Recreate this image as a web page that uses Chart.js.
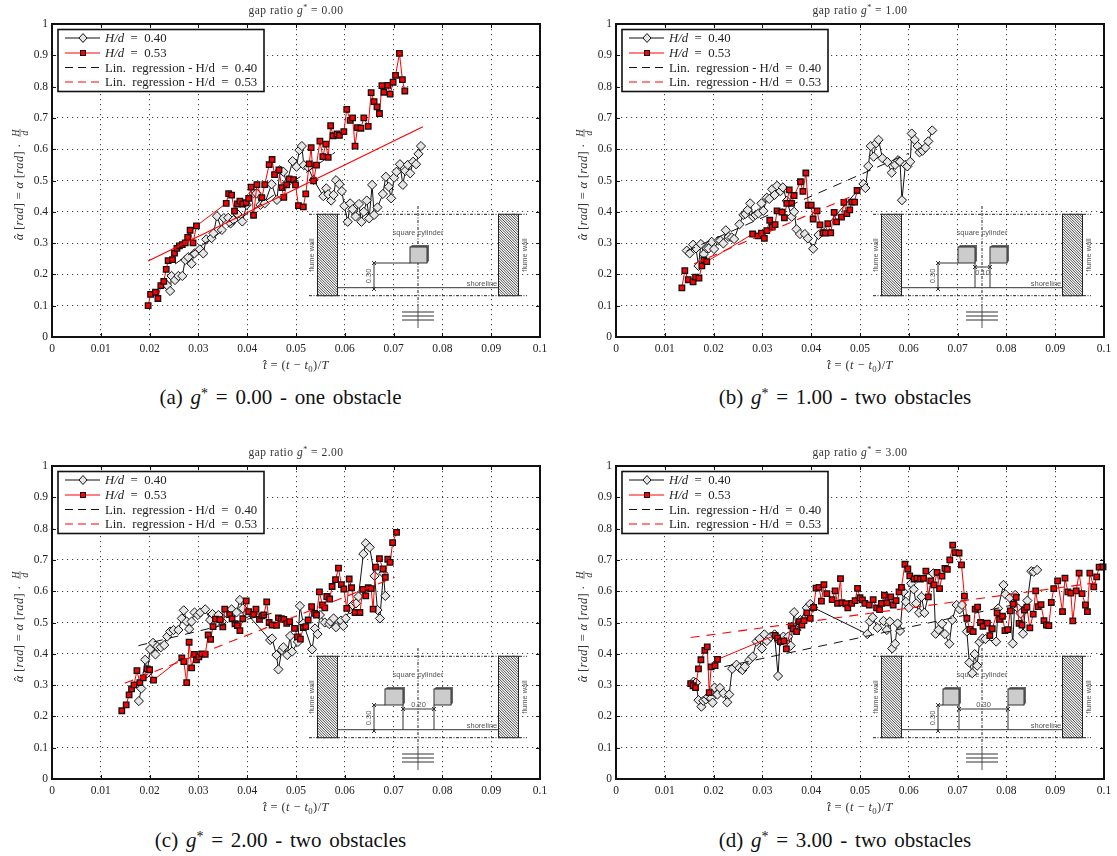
<!DOCTYPE html>
<html><head><meta charset="utf-8">
<script src="https://cdn.jsdelivr.net/npm/chart.js@4"></script>
<style>
html,body{margin:0;padding:0;background:#fff;overflow:hidden}
#page{position:relative;width:1117px;height:856px}
canvas{position:absolute}
.cap{position:absolute;font-family:"Liberation Serif",serif;font-size:21px;word-spacing:2.5px;color:#111;white-space:nowrap;transform:translateX(-50%);line-height:22px}
.cap sup{font-size:14px;line-height:0;vertical-align:6px}
</style></head><body><div id="page"></div>
<script>
const xTickLabels=['0','0.01','0.02','0.03','0.04','0.05','0.06','0.07','0.08','0.09','0.1'];
const yTickLabels=['0','0.1','0.2','0.3','0.4','0.5','0.6','0.7','0.8','0.9','1'];
const seriesLabels=['H/d = 0.40','H/d = 0.53','Lin. regression - H/d = 0.40','Lin. regression - H/d = 0.53'];
const gapValues=['0.00','1.00','2.00','3.00'];
const captions=['(a)|one obstacle','(b)|two obstacles','(c)|two obstacles','(d)|two obstacles'];
const gapDims=['','0.10','0.20','0.30'];

const aBlackX=[.0232,.0236,.0242,.0245,.0252,.0259,.0267,.0273,.0279,.0286,.0292,.0303,.0310,.0316,.0327,.0331,.0338,.0348,.0352,.0361,.0366,.0372,.0380,.0390,.0399,.0413,.0419,.0427,.0436,.0450,.0461,.0467,.0474,.0481,.0493,.0501,.0507,.0512,.0516,.0525,.0536,.0556,.0562,.0566,.0572,.0577,.0582,.0589,.0594,.0599,.0606,.0611,.0616,.0622,.0629,.0634,.0639,.0645,.0650,.0656,.0660,.0667,.0678,.0684,.0690,.0695,.0701,.0706,.0713,.0719,.0724,.0729,.0734,.0740,.0746,.0751,.0756];
const aBlackY=[.171,.165,.147,.195,.182,.195,.195,.246,.255,.234,.267,.280,.267,.312,.316,.331,.386,.342,.380,.381,.363,.374,.393,.369,.422,.459,.459,.422,.427,.488,.438,.533,.528,.491,.562,.544,.597,.610,.549,.542,.502,.450,.475,.456,.436,.454,.501,.488,.466,.419,.368,.427,.408,.385,.425,.368,.400,.436,.379,.486,.390,.414,.457,.512,.480,.443,.509,.528,.552,.486,.531,.550,.523,.560,.552,.585,.610];
const aRedX=[.0197,.0202,.0212,.0217,.0223,.0229,.0234,.0238,.0247,.0251,.0256,.0261,.0267,.0273,.0278,.0283,.0289,.0296,.0357,.0362,.0368,.0374,.0380,.0385,.0391,.0398,.0403,.0408,.0413,.0420,.0430,.0436,.0445,.0451,.0456,.0465,.0471,.0475,.0481,.0486,.0495,.0499,.0505,.0515,.0520,.0527,.0531,.0536,.0542,.0549,.0555,.0561,.0566,.0571,.0576,.0584,.0589,.0598,.0604,.0611,.0616,.0621,.0626,.0633,.0639,.0648,.0654,.0660,.0666,.0671,.0676,.0680,.0688,.0693,.0699,.0704,.0712,.0718,.0723];
const aRedY=[.100,.136,.143,.123,.164,.178,.216,.244,.247,.268,.283,.291,.295,.301,.318,.341,.301,.355,.427,.458,.453,.402,.425,.434,.425,.429,.443,.479,.389,.487,.445,.487,.551,.567,.519,.534,.477,.446,.486,.505,.503,.486,.420,.416,.457,.553,.605,.499,.549,.626,.576,.616,.574,.675,.643,.649,.644,.656,.727,.692,.700,.610,.669,.667,.700,.673,.781,.752,.735,.714,.803,.782,.804,.776,.814,.836,.906,.822,.786];
const aRegBlackX=[.0252,.0580];const aRegBlackY=[.233,.590];
const aRegRedX=[.0197,.0760];const aRegRedY=[.243,.672];

const bBlackX=[.0145,.0151,.0158,.0164,.0169,.0174,.0180,.0186,.0190,.0196,.0201,.0210,.0214,.0220,.0225,.0231,.0237,.0242,.0253,.0261,.0265,.0270,.0275,.0281,.0286,.0292,.0298,.0302,.0309,.0314,.0320,.0325,.0330,.0337,.0342,.0350,.0360,.0365,.0370,.0377,.0387,.0393,.0404,.0415,.0507,.0511,.0517,.0522,.0528,.0533,.0538,.0546,.0556,.0565,.0572,.0578,.0582,.0586,.0593,.0597,.0603,.0606,.0612,.0618,.0622,.0628,.0634,.0640,.0648];
const bBlackY=[.276,.267,.295,.283,.227,.297,.265,.283,.283,.304,.281,.308,.308,.299,.341,.320,.318,.313,.360,.390,.393,.406,.427,.384,.390,.395,.427,.403,.445,.441,.472,.454,.483,.466,.478,.435,.384,.400,.344,.329,.329,.315,.282,.326,.489,.476,.546,.610,.576,.619,.630,.571,.559,.525,.550,.565,.560,.437,.550,.545,.560,.650,.630,.610,.590,.595,.605,.625,.660];
const bRedX=[.0135,.0141,.0148,.0158,.0163,.0170,.0176,.0180,.0186,.0280,.0291,.0298,.0304,.0309,.0315,.0320,.0326,.0330,.0340,.0345,.0350,.0355,.0360,.0365,.0378,.0383,.0389,.0394,.0400,.0404,.0412,.0418,.0424,.0429,.0434,.0440,.0447,.0452,.0462,.0467,.0473,.0479,.0483,.0489,.0494];
const bRedY=[.157,.212,.183,.176,.191,.188,.227,.246,.241,.329,.323,.332,.315,.340,.373,.351,.359,.403,.399,.381,.427,.470,.427,.452,.496,.465,.524,.421,.421,.377,.403,.358,.333,.332,.362,.333,.398,.368,.383,.430,.394,.406,.431,.431,.468];
const bRegBlackX=[.0145,.0600];const bRegBlackY=[.275,.587];
const bRegRedX=[.0160,.0494];const bRegRedY=[.234,.457];

const cBlackX=[.0178,.0183,.0191,.0195,.0201,.0207,.0212,.0216,.0223,.0230,.0236,.0242,.0249,.0259,.0266,.0270,.0276,.0281,.0286,.0292,.0299,.0304,.0314,.0324,.0329,.0335,.0341,.0348,.0358,.0368,.0378,.0385,.0391,.0399,.0447,.0451,.0460,.0464,.0471,.0474,.0482,.0488,.0492,.0504,.0508,.0515,.0533,.0539,.0544,.0549,.0559,.0568,.0571,.0577,.0582,.0592,.0597,.0602,.0611,.0616,.0623,.0628,.0638,.0643,.0651,.0661,.0667,.0672,.0679,.0683];
const cBlackY=[.249,.289,.381,.338,.415,.435,.398,.423,.421,.428,.455,.471,.476,.476,.513,.539,.503,.479,.503,.532,.524,.532,.542,.508,.527,.497,.524,.503,.529,.542,.532,.572,.545,.529,.444,.449,.396,.350,.412,.421,.396,.457,.407,.438,.553,.497,.414,.481,.463,.524,.500,.495,.503,.513,.485,.506,.489,.513,.542,.556,.561,.583,.719,.753,.740,.649,.540,.513,.657,.585];
const cRedX=[.0143,.0152,.0158,.0163,.0168,.0174,.0180,.0187,.0195,.0200,.0208,.0266,.0270,.0276,.0281,.0286,.0292,.0296,.0301,.0307,.0314,.0320,.0325,.0330,.0335,.0344,.0350,.0354,.0364,.0369,.0375,.0380,.0385,.0391,.0398,.0403,.0413,.0418,.0425,.0430,.0434,.0440,.0445,.0451,.0460,.0464,.0470,.0475,.0481,.0487,.0497,.0503,.0509,.0515,.0520,.0525,.0532,.0538,.0542,.0548,.0554,.0559,.0563,.0569,.0574,.0581,.0587,.0593,.0598,.0604,.0609,.0614,.0621,.0631,.0637,.0643,.0648,.0654,.0658,.0663,.0671,.0678,.0683,.0688,.0693,.0698,.0706];
const cRedY=[.218,.237,.269,.288,.301,.346,.308,.323,.352,.349,.316,.387,.375,.308,.437,.355,.398,.381,.390,.400,.398,.460,.446,.487,.511,.509,.486,.543,.525,.512,.496,.490,.474,.512,.569,.535,.526,.543,.510,.521,.524,.566,.500,.492,.491,.515,.512,.510,.497,.503,.481,.454,.447,.484,.487,.508,.551,.529,.524,.598,.556,.547,.583,.575,.615,.637,.674,.621,.607,.545,.639,.611,.532,.532,.606,.585,.611,.608,.543,.677,.704,.671,.644,.702,.692,.755,.788];
const cRegBlackX=[.0177,.0460];const cRegBlackY=[.426,.533];
const cRegRedX=[.0149,.0702];const cRegRedY=[.306,.644];

const dBlackX=[.0159,.0164,.0169,.0175,.0179,.0184,.0189,.0195,.0198,.0202,.0208,.0213,.0220,.0228,.0232,.0238,.0247,.0253,.0259,.0264,.0273,.0280,.0288,.0294,.0299,.0304,.0309,.0317,.0325,.0332,.0336,.0343,.0353,.0358,.0365,.0370,.0378,.0391,.0398,.0404,.0515,.0520,.0526,.0536,.0548,.0555,.0561,.0566,.0572,.0577,.0582,.0589,.0594,.0600,.0605,.0610,.0615,.0621,.0626,.0632,.0650,.0655,.0661,.0668,.0674,.0683,.0689,.0698,.0704,.0709,.0719,.0724,.0730,.0735,.0740,.0745,.0751,.0757,.0779,.0783,.0794,.0798,.0807,.0813,.0818,.0824,.0829,.0834,.0839,.0843,.0851,.0856,.0863];
const dBlackY=[.311,.308,.252,.231,.250,.254,.263,.258,.244,.292,.270,.291,.274,.245,.270,.352,.365,.355,.348,.359,.380,.391,.439,.448,.417,.462,.441,.455,.462,.329,.439,.455,.455,.426,.533,.476,.508,.547,.559,.548,.463,.503,.516,.483,.505,.476,.503,.417,.432,.497,.473,.598,.566,.547,.625,.606,.561,.531,.582,.531,.657,.464,.477,.496,.463,.432,.508,.556,.542,.556,.471,.372,.338,.399,.362,.437,.449,.447,.439,.545,.620,.590,.579,.433,.588,.545,.529,.464,.545,.570,.664,.662,.668];
const dRedX=[.0153,.0158,.0163,.0169,.0174,.0182,.0187,.0191,.0195,.0203,.0208,.0326,.0331,.0337,.0344,.0349,.0359,.0363,.0370,.0376,.0381,.0385,.0391,.0398,.0405,.0410,.0416,.0421,.0426,.0432,.0443,.0449,.0454,.0460,.0463,.0471,.0475,.0483,.0490,.0495,.0500,.0505,.0510,.0519,.0527,.0534,.0540,.0544,.0550,.0555,.0563,.0568,.0574,.0580,.0585,.0592,.0598,.0602,.0611,.0617,.0624,.0630,.0635,.0640,.0645,.0652,.0658,.0663,.0668,.0674,.0679,.0684,.0690,.0695,.0703,.0708,.0714,.0719,.0725,.0732,.0736,.0741,.0747,.0752,.0761,.0766,.0771,.0781,.0786,.0792,.0797,.0803,.0808,.0814,.0820,.0826,.0832,.0837,.0842,.0848,.0855,.0860,.0865,.0871,.0877,.0882,.0887,.0892,.0897,.0905,.0915,.0920,.0926,.0932,.0936,.0943,.0949,.0955,.0962,.0966,.0971,.0979,.0985,.0990,.0998];
const dRedY=[.305,.298,.292,.352,.381,.411,.422,.276,.358,.362,.382,.459,.450,.439,.441,.416,.489,.480,.471,.503,.492,.506,.531,.513,.548,.610,.612,.568,.621,.592,.573,.601,.561,.640,.563,.560,.547,.561,.570,.609,.579,.572,.561,.556,.573,.547,.541,.561,.587,.563,.582,.556,.570,.598,.612,.686,.671,.649,.639,.642,.639,.641,.664,.582,.633,.620,.660,.608,.648,.673,.670,.700,.747,.723,.722,.684,.584,.513,.478,.471,.543,.549,.500,.488,.498,.458,.480,.531,.510,.520,.474,.477,.537,.559,.580,.497,.492,.540,.549,.483,.527,.601,.551,.557,.506,.492,.490,.564,.608,.633,.535,.642,.598,.594,.505,.601,.658,.592,.556,.535,.658,.614,.646,.677,.678];
const dRegBlackX=[.0222,.0810];const dRegBlackY=[.359,.555];
const dRegRedX=[.0153,.0998];const dRegRedY=[.452,.630];

const pts=(xs,ys)=>xs.map((x,i)=>({x,y:ys[i]}));
const SERIF='"Liberation Serif",serif';
const SANS='"Liberation Sans",sans-serif';

function runs(ctx,parts,x,y,size,align,color,spacing){
  ctx.save();ctx.fillStyle=color||'#222';ctx.textBaseline='alphabetic';ctx.textAlign='left';
  ctx.letterSpacing=(spacing||0)+'px';
  let w=0;
  for(const p of parts){const s=p.s?size*.7:size;ctx.font=(p.i?'italic ':'')+s+'px '+SERIF;w+=ctx.measureText(p.t).width;}
  let cx=align==='center'?x-w/2:x;
  for(const p of parts){const s=p.s?size*.7:size;ctx.font=(p.i?'italic ':'')+s+'px '+SERIF;
    const pw=ctx.measureText(p.t).width;
    ctx.fillText(p.t,cx,y+(p.s==='sup'?-size*.35:p.s==='sub'?size*.2:0));
    if(p.h){ctx.font=size+'px '+SERIF;ctx.textAlign='center';ctx.fillText('\u02C6',cx+pw/2,y-size*.02);ctx.textAlign='left';}
    cx+=pw;}
  ctx.restore();
}
function labelRuns(t){
  if(t.startsWith('H/d'))return [{t:'H/d',i:true},{t:t.slice(3).replace(' = ','  =  ')}];
  return [{t:t.replace('Lin. ','Lin.  ').replace(' = ','  =  ')}];
}
function cross(ctx,x,y){ctx.beginPath();ctx.moveTo(x-2,y-2);ctx.lineTo(x+2,y+2);ctx.moveTo(x+2,y-2);ctx.lineTo(x-2,y+2);ctx.stroke();}

function drawInset(ctx,pi){
  const T=214.3,B=295.7,SH=287.7,CX=418;
  ctx.save();
  ctx.strokeStyle='#222';ctx.lineWidth=1;
  ctx.setLineDash([3,1.5,1,1.5]);
  ctx.beginPath();ctx.moveTo(309,T);ctx.lineTo(527,T);ctx.moveTo(309,B);ctx.lineTo(527,B);
  ctx.moveTo(CX,206);ctx.lineTo(CX,305);ctx.stroke();
  ctx.setLineDash([]);
  ctx.beginPath();ctx.moveTo(CX,305);ctx.lineTo(CX,328);ctx.strokeStyle='#555';ctx.stroke();
  ctx.strokeStyle='#333';
  ctx.beginPath();[312,316,320].forEach(y=>{ctx.moveTo(402,y);ctx.lineTo(434,y);});ctx.stroke();
  for(const [l,r] of [[317.5,337.5],[498.5,518.5]]){
    ctx.save();ctx.fillStyle='#fff';ctx.fillRect(l,T,r-l,B-T);
    ctx.beginPath();ctx.rect(l,T,r-l,B-T);ctx.clip();
    ctx.strokeStyle='#333';ctx.lineWidth=.9;ctx.beginPath();
    for(let k=l-100;k<r+10;k+=2.6){ctx.moveTo(k,T);ctx.lineTo(k+(B-T),B);}
    ctx.stroke();ctx.restore();
    ctx.strokeStyle='#222';ctx.strokeRect(l,T,r-l,B-T);
  }
  ctx.strokeStyle='#333';ctx.beginPath();ctx.moveTo(337.5,SH);ctx.lineTo(498.5,SH);ctx.stroke();
  ctx.fillStyle='#555';ctx.font='7.5px '+SANS;ctx.textBaseline='middle';ctx.textAlign='center';
  ctx.fillText('square cylinder',CX,232.7);
  ctx.fillText('shoreline',482,283.5);
  for(const x of [312,525]){ctx.save();ctx.translate(x,255);ctx.rotate(-Math.PI/2);ctx.fillText('flume wall',0,0);ctx.restore();}
  const squares=[[[410,427]],[[394,411],[426,443]],[[385,403],[434,451]],[[379,395],[444,460]]][pi];
  const top=247,bot=263;
  ctx.beginPath();ctx.moveTo(374,bot);ctx.lineTo(squares[0][0],bot);ctx.moveTo(374,bot);ctx.lineTo(374,289);ctx.stroke();
  cross(ctx,374,bot);cross(ctx,374,289);
  ctx.save();ctx.translate(369,276);ctx.rotate(-Math.PI/2);ctx.fillText('0.30',0,0);ctx.restore();
  for(const [l,r] of squares){
    ctx.fillStyle='#666';ctx.beginPath();ctx.moveTo(l,top);ctx.lineTo(l+2,top-2);ctx.lineTo(r+2,top-2);ctx.lineTo(r+2,bot-2);ctx.lineTo(r,bot);ctx.closePath();ctx.fill();
    ctx.fillStyle='#ccc';ctx.fillRect(l,top,r-l,bot-top);ctx.strokeStyle='#333';ctx.strokeRect(l,top,r-l,bot-top);
  }
  if(squares.length===2){
    const a=squares[0][1],b=squares[1][0];
    ctx.strokeStyle='#333';ctx.beginPath();
    ctx.moveTo(a,bot);ctx.lineTo(a,SH);ctx.moveTo(b,bot);ctx.lineTo(b,SH);
    ctx.moveTo(a,267);ctx.lineTo(b,267);ctx.stroke();
    cross(ctx,a,267);cross(ctx,b,267);
    ctx.fillStyle='#555';ctx.fillText(gapDims[pi],(a+b)/2,pi===1?272.5:262.5);
  }
  ctx.restore();
}

function makePanel(pi,left,top,series){
  const cv=document.createElement('canvas');cv.width=553;cv.height=372;
  cv.style.left=left+'px';cv.style.top=top+'px';cv.style.width='553px';cv.style.height='372px';
  document.getElementById('page').appendChild(cv);
  const decor={id:'decor',
    beforeDatasetsDraw(ch){drawInset(ch.ctx,pi);},
    afterDatasetsDraw(ch){
      const c=ch.ctx,a=ch.chartArea,xs=ch.scales.x,ys=ch.scales.y;
      c.save();c.strokeStyle='#111';c.lineWidth=1;c.beginPath();
      xs.ticks.forEach(t=>{const p=Math.round(xs.getPixelForValue(t.value))+.5;c.moveTo(p,a.bottom);c.lineTo(p,a.bottom-4);c.moveTo(p,a.top);c.lineTo(p,a.top+4);});
      ys.ticks.forEach(t=>{const p=Math.round(ys.getPixelForValue(t.value))+.5;c.moveTo(a.left,p);c.lineTo(a.left+4,p);c.moveTo(a.right,p);c.lineTo(a.right-4,p);});
      c.stroke();
      c.lineWidth=2;c.strokeRect(a.left,a.top,a.right-a.left,a.bottom-a.top);
      // legend box, built from the datasets
      c.fillStyle='#fff';c.fillRect(58,29.5,206,62);c.lineWidth=1.6;c.strokeStyle='#111';c.strokeRect(58,29.5,206,62);
      const rows=[38,53,67.5,82];
      ch.data.datasets.forEach((ds,i)=>{
        const y=rows[i];
        c.save();c.strokeStyle=ds.borderColor;c.lineWidth=1;c.setLineDash(i>1?[8,5]:[]);
        c.beginPath();c.moveTo(65,y);c.lineTo(100,y);c.stroke();c.setLineDash([]);
        if(i===0){c.fillStyle=ds.pointBackgroundColor;c.strokeStyle='#111';c.beginPath();c.moveTo(83,y-4.5);c.lineTo(87,y);c.lineTo(83,y+4.5);c.lineTo(79,y);c.closePath();c.fill();c.stroke();}
        if(i===1){c.fillStyle=ds.pointBackgroundColor;c.strokeStyle='#111';c.fillRect(80.5,y-2.5,5,5);c.strokeRect(80.5,y-2.5,5,5);}
        c.restore();
        runs(c,labelRuns(ds.label),105,y+4,12.8,'left','#222');
      });
      c.restore();
      // title and axis titles
      runs(c,[{t:'gap ratio '},{t:'g',i:true},{t:'*',s:'sup'},{t:' = '+gapValues[pi]}],296,14,11.5,'center','#333',.5);
      runs(c,[{t:'t',i:true,h:true},{t:' = ('},{t:'t',i:true},{t:' \u2212 '},{t:'t',i:true},{t:'0',s:'sub'},{t:')/'},{t:'T',i:true}],296,369,12.5,'center','#333',.4);
      c.save();c.translate(23,180);c.rotate(-Math.PI/2);
      runs(c,[{t:'\u03B1',i:true,h:true},{t:' ['},{t:'rad',i:true},{t:'] = '},{t:'\u03B1',i:true},{t:' ['},{t:'rad',i:true},{t:'] \u00B7 '}],-10,0,12.5,'center','#333',.3);
      c.font='italic 9.5px '+SERIF;c.fillStyle='#333';c.textAlign='center';
      c.fillText('H',47,-4.5);c.fillText('d',47,5);
      c.strokeStyle='#333';c.lineWidth=.7;c.beginPath();c.moveTo(43,-3);c.lineTo(51,-3);c.stroke();
      c.restore();
    }};
  const tickFont={family:SERIF,size:11.5};
  new Chart(cv.getContext('2d'),{
    type:'line',
    data:{datasets:[
      {label:seriesLabels[0],data:pts(series[0],series[1]),order:4,borderColor:'#111',borderWidth:1,pointStyle:'rectRot',pointRadius:4.6,pointBackgroundColor:'#e6e6e6',pointBorderColor:'#111',pointBorderWidth:1,tension:0,clip:false},
      {label:seriesLabels[1],data:pts(series[2],series[3]),order:3,borderColor:'#ff0000',borderWidth:1,pointStyle:'rect',pointRadius:3.9,pointBackgroundColor:'#ff0000',pointBorderColor:'#111',pointBorderWidth:1.3,tension:0,clip:false},
      {label:seriesLabels[2],data:pts(series[4],series[5]),order:2,borderColor:'#111',borderWidth:1,borderDash:[9,7],pointRadius:0,tension:0},
      {label:seriesLabels[3],data:pts(series[6],series[7]),order:1,borderColor:'#ff0000',borderWidth:1.1,borderDash:pi===0?[]:[9,7],pointRadius:0,tension:0}
    ]},
    options:{responsive:false,animation:false,devicePixelRatio:1,events:[],
      layout:{padding:{left:0,top:24,right:13,bottom:0}},
      plugins:{legend:{display:false},title:{display:false},tooltip:{enabled:false}},
      scales:{
        x:{type:'linear',min:0,max:.1,afterFit:s=>{s.height=372-337;},
          afterBuildTicks:s=>{s.ticks=xTickLabels.map((_,i)=>({value:i/100}));},
          grid:{color:'#444',lineWidth:1,drawTicks:false},border:{display:false,dash:[1.2,3.8]},
          ticks:{autoSkip:false,maxRotation:0,padding:5,color:'#222',font:tickFont,callback:(v,i)=>xTickLabels[i]}},
        y:{type:'linear',min:0,max:1,afterFit:s=>{s.width=52;},
          afterBuildTicks:s=>{s.ticks=yTickLabels.map((_,i)=>({value:i/10}));},
          grid:{color:'#444',lineWidth:1,drawTicks:false},border:{display:false,dash:[1.2,3.8]},
          ticks:{autoSkip:false,padding:4,color:'#222',font:tickFont,callback:(v,i)=>yTickLabels[i]}}
      }},
    plugins:[decor]
  });
  const [tag,rest]=captions[pi].split('|');
  const d=document.createElement('div');d.className='cap';
  d.innerHTML=tag+' <i>g</i><sup>*</sup> = '+gapValues[pi]+' - '+rest;
  d.style.left=(left+(pi%2?281:280.5))+'px';d.style.top=(pi<2?386:829)+'px';
  document.getElementById('page').appendChild(d);
}
makePanel(0,0,0,[aBlackX,aBlackY,aRedX,aRedY,aRegBlackX,aRegBlackY,aRegRedX,aRegRedY]);
makePanel(1,564,0,[bBlackX,bBlackY,bRedX,bRedY,bRegBlackX,bRegBlackY,bRegRedX,bRegRedY]);
makePanel(2,0,442,[cBlackX,cBlackY,cRedX,cRedY,cRegBlackX,cRegBlackY,cRegRedX,cRegRedY]);
makePanel(3,564,442,[dBlackX,dBlackY,dRedX,dRedY,dRegBlackX,dRegBlackY,dRegRedX,dRegRedY]);
</script></body></html>
